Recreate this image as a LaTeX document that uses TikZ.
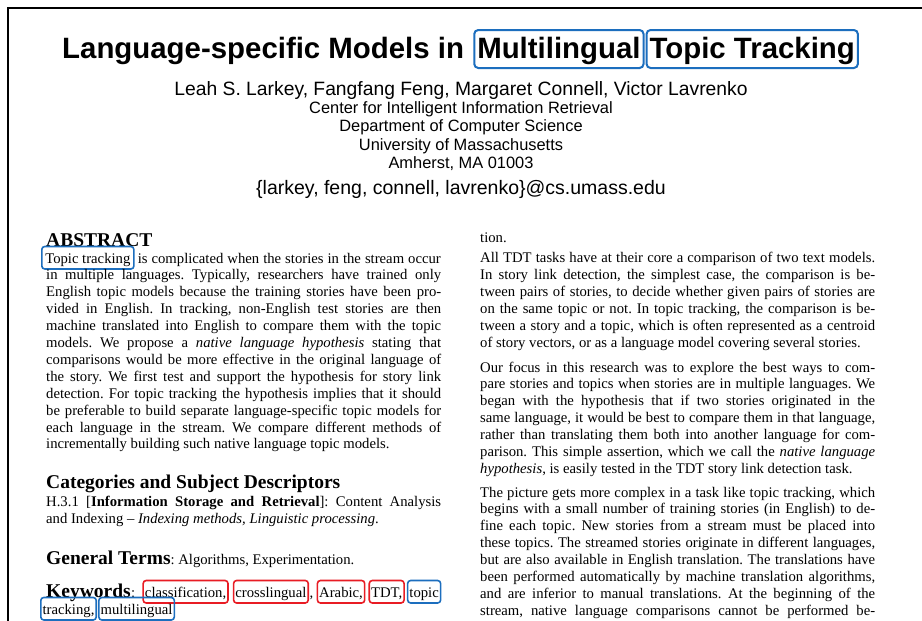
\documentclass[tikz,border=0pt]{standalone}
\usepackage{fontspec}
\setmainfont{Liberation Serif}
\newfontfamily\arialfont{Liberation Sans}
\usetikzlibrary{positioning}
\frenchspacing

\definecolor{hlblue}{RGB}{28,110,190}
\definecolor{hlred}{RGB}{232,28,36}

\newlength{\colw}\setlength{\colw}{395pt}
\newcommand{\jl}[1]{\makebox[\colw][s]{#1}}

\tikzset{
  pagetext/.style={anchor=base west, inner sep=0pt, font=\fontsize{14.7}{17}\selectfont},
  headtext/.style={anchor=base west, inner sep=0pt, font=\bfseries\fontsize{19.5}{20}\selectfont},
  ctrtext/.style={anchor=base, inner sep=0pt, font=\arialfont\fontsize{16.4}{18}\selectfont},
  kwbox/.style={draw=#1, line width=1.6pt, rounded corners=3pt, inner xsep=1.8pt,
    inner ysep=2.5pt, text height=14pt, text depth=3.5pt, font=\fontsize{14.7}{17}\selectfont},
  titlebox/.style={draw=hlblue, line width=2pt, rounded corners=4pt, inner xsep=3pt,
    inner ysep=2pt, text height=26pt, text depth=8pt, font=\arialfont\bfseries\fontsize{29.4}{30}\selectfont},
}

\begin{document}
\begin{tikzpicture}[x=1pt,y=-1pt]
  \useasboundingbox (0,0) rectangle (922,621);
  \fill[white] (0,0) rectangle (922,621);
  \draw[line width=2.3pt] (8,621) -- (8,8) -- (922,8);

  % title and authors
  \node[anchor=base west, inner sep=0pt, font=\arialfont\bfseries\fontsize{29.4}{30}\selectfont] (ttl) at (62,58)
    {Language-specific Models in};
  \node[titlebox, base right=9pt of ttl] (ttml) {Multilingual};
  \node[titlebox, base right=1pt of ttml] (tttp) {Topic Tracking};

  \node[ctrtext, font=\arialfont\fontsize{19.3}{20}\selectfont] (auth) at (461,95)
    {Leah S. Larkey, Fangfang Feng, Margaret Connell, Victor Lavrenko};
  \node[ctrtext] (ciir) at (461,113) {Center for Intelligent Information Retrieval};
  \node[ctrtext] (dept) at (461,131.5) {Department of Computer Science};
  \node[ctrtext] (umass) at (461,150) {University of Massachusetts};
  \node[ctrtext] (amh) at (461,168) {Amherst, MA 01003};
  \node[ctrtext, font=\arialfont\fontsize{19.5}{20}\selectfont] (mail) at (461,194)
    {\{larkey, feng, connell, lavrenko\}@cs.umass.edu};

  % left column
  \node[headtext] (abs) at (46,246) {ABSTRACT};
  \node[kwbox=hlblue, inner xsep=3.5pt, anchor=base west] (tt) at (41,263) {Topic tracking};
  \node[pagetext, anchor=base east] (ab0) at (441,263)
    {\makebox[303pt][s]{is complicated when the stories in the stream occur}};
  \foreach \lne [count=\i] in {
      {in multiple languages. Typically, researchers have trained only},
      {English topic models because the training stories have been pro-},
      {vided in English. In tracking, non-English test stories are then},
      {machine translated into English to compare them with the topic},
      {models. We propose a \textit{native language hypothesis} stating that},
      {comparisons would be more effective in the original language of},
      {the story. We first test and support the hypothesis for story link},
      {detection. For topic tracking the hypothesis implies that it should},
      {be preferable to build separate language-specific topic models for},
      {each language in the stream. We compare different methods of}}
    \node[pagetext] (ab\i) at (46,263+16.9*\i) {\jl{\lne}};
  \node[pagetext] (ab11) at (46,448.9) {incrementally building such native language topic models.};

  \node[headtext] (cat) at (46,488) {Categories and Subject Descriptors};
  \node[pagetext] (cat1) at (46,506)
    {\jl{H.3.1 [\textbf{Information Storage and Retrieval}]: Content Analysis}};
  \node[pagetext] (cat2) at (46,523)
    {and Indexing -- \textit{Indexing methods, Linguistic processing}.};

  \node[pagetext] (gen) at (46,564)
    {{\bfseries\fontsize{19.5}{20}\selectfont General Terms}: Algorithms, Experimentation.};

  \node[headtext] (kw) at (46,597) {Keywords};
  \node[pagetext, base right=0pt of kw] (kwc) {:};
  \node[kwbox=hlred, base right=7pt of kwc] (kw1) {classification,};
  \node[kwbox=hlred, base right=4pt of kw1] (kw2) {crosslingual};
  \node[pagetext, base right=0.5pt of kw2] (kw2c) {,};
  \node[kwbox=hlred, base right=3pt of kw2c] (kw3) {Arabic,};
  \node[kwbox=hlred, base right=3pt of kw3] (kw4) {TDT,};
  \node[kwbox=hlblue, base right=2pt of kw4] (kw5) {topic};
  \node[kwbox=hlblue, anchor=base west] (kw6) at (40,614) {tracking,};
  \node[kwbox=hlblue, base right=1pt of kw6] (kw7) {multilingual};

  % right column
  \node[pagetext] (tion) at (480,242) {tion.};
  \foreach \lne [count=\i from 0] in {
      {All TDT tasks have at their core a comparison of two text models.},
      {In story link detection, the simplest case, the comparison is be-},
      {tween pairs of stories, to decide whether given pairs of stories are},
      {on the same topic or not. In topic tracking, the comparison is be-},
      {tween a story and a topic, which is often represented as a centroid}}
    \node[pagetext] (tdt\i) at (480,262+17*\i) {\jl{\lne}};
  \node[pagetext] (tdt5) at (480,347) {of story vectors, or as a language model covering several stories.};

  \foreach \lne [count=\i from 0] in {
      {Our focus in this research was to explore the best ways to com-},
      {pare stories and topics when stories are in multiple languages. We},
      {began with the hypothesis that if two stories originated in the},
      {same language, it would be best to compare them in that language,},
      {rather than translating them both into another language for com-},
      {parison. This simple assertion, which we call the \textit{native language}}}
    \node[pagetext] (foc\i) at (480,372+16.9*\i) {\jl{\lne}};
  \node[pagetext] (foc6) at (480,473.4)
    {\textit{hypothesis}, is easily tested in the TDT story link detection task.};

  \foreach \lne [count=\i from 0] in {
      {The picture gets more complex in a task like topic tracking, which},
      {begins with a small number of training stories (in English) to de-},
      {fine each topic. New stories from a stream must be placed into},
      {these topics. The streamed stories originate in different languages,},
      {but are also available in English translation. The translations have},
      {been performed automatically by machine translation algorithms,},
      {and are inferior to manual translations. At the beginning of the},
      {stream, native language comparisons cannot be performed be-}}
    \node[pagetext] (pic\i) at (480,497+16.9*\i) {\jl{\lne}};
\end{tikzpicture}
\end{document}
